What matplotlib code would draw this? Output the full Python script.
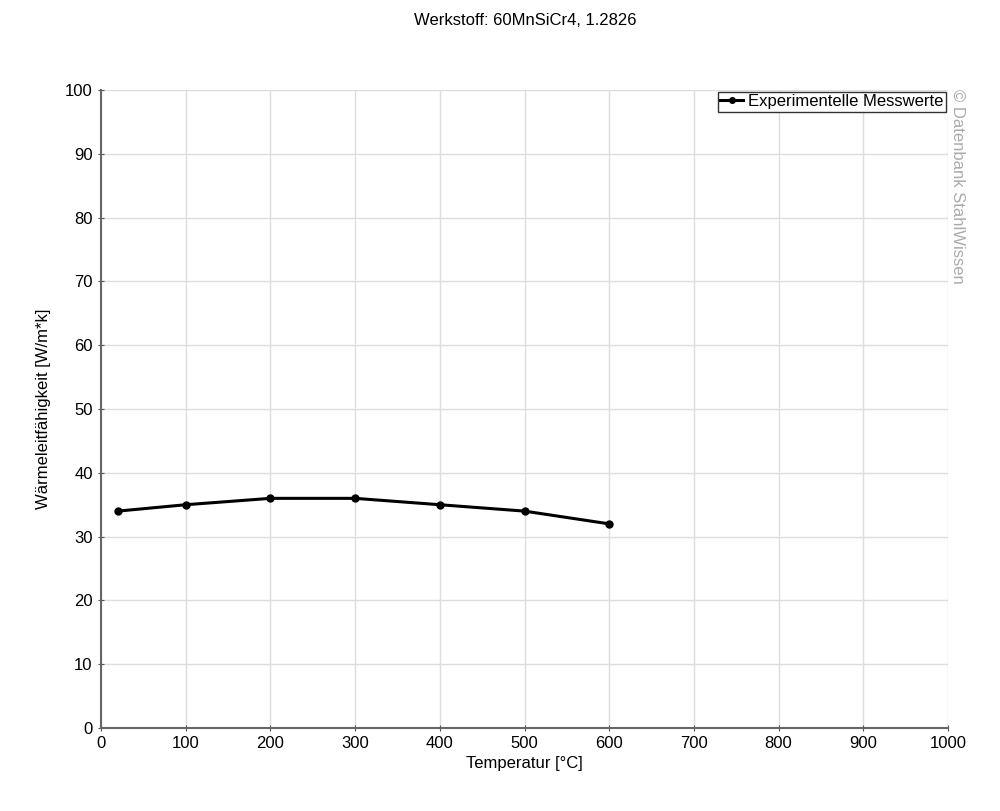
import matplotlib.pyplot as plt

# Messwerte
temperatur = [20, 100, 200, 300, 400, 500, 600]
waermeleitfaehigkeit = [34, 35, 36, 36, 35, 34, 32]
x_ticks = [0, 100, 200, 300, 400, 500, 600, 700, 800, 900, 1000]
y_ticks = [0, 10, 20, 30, 40, 50, 60, 70, 80, 90, 100]

plt.rcParams['font.family'] = ['Liberation Sans', 'DejaVu Sans']

fig = plt.figure(figsize=(10, 8.11), dpi=100)
ax = fig.add_axes([0.101, 0.1023, 0.847, 0.7867])

ax.plot(temperatur, waermeleitfaehigkeit, color='black', linewidth=2.2,
        marker='o', markersize=5, label='Experimentelle Messwerte')

ax.set_xlim(0, 1000)
ax.set_ylim(0, 100)
ax.set_xticks(x_ticks)
ax.set_yticks(y_ticks)
ax.tick_params(labelsize=12, color='#555555', length=5, direction='inout')
ax.grid(True, color='#dddddd', linewidth=1)
ax.set_axisbelow(True)

for s in ['top', 'right']:
    ax.spines[s].set_visible(False)
for s in ['left', 'bottom']:
    ax.spines[s].set_color('#666666')
    ax.spines[s].set_linewidth(1.5)

ax.set_xlabel('Temperatur [°C]', fontsize=12, labelpad=3)
ax.set_ylabel('Wärmeleitfähigkeit [W/m*k]', fontsize=12, labelpad=10)
fig.text(0.525, 0.975, 'Werkstoff: 60MnSiCr4, 1.2826', ha='center', va='center', fontsize=12)

leg = ax.legend(loc='upper right', bbox_to_anchor=(1.0, 1.0), fontsize=12,
                fancybox=False, edgecolor='#333333', framealpha=1,
                borderpad=0.15, handlelength=1.4, handletextpad=0.3, borderaxespad=0.1,
                markerscale=0.8)
leg.get_frame().set_linewidth(1)

fig.text(0.958, 0.89, '© Datenbank StahlWissen', rotation=270, ha='center', va='top',
         fontsize=12, color='#aaaaaa')

fig.savefig('out.png', dpi=100)
